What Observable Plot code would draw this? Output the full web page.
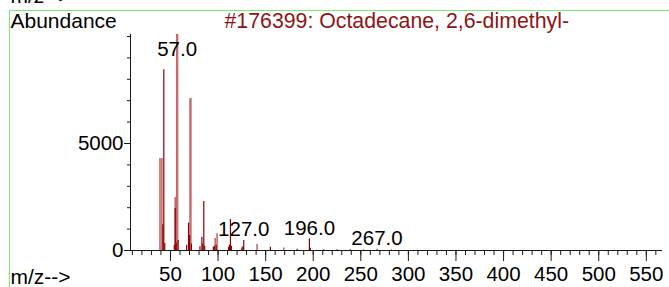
<!DOCTYPE html>
<html><head><meta charset="utf-8">
<script src="https://cdn.jsdelivr.net/npm/d3@7"></script>
<script src="https://cdn.jsdelivr.net/npm/@observablehq/plot@0.6"></script>
<style>
html,body{margin:0;padding:0;background:#fff;}
#wrap{position:relative;width:669px;height:287px;overflow:hidden;}
#wrap svg{position:absolute;left:0;top:0;}
#frame{position:absolute;left:8.5px;top:9.5px;right:-5px;bottom:-5px;border-left:1.5px solid #78ec78;border-top:1.5px solid #78ec78;pointer-events:none;}
</style></head><body>
<div id="wrap"><div id="frame"></div></div>
<script>
// Light (pink) spectrum lines
const lightMz    = [39,   41,   55,   57,    71,   97,  99,  141, 169, 267];
const lightAbund = [4300, 4300, 2480, 10100, 7100, 560, 780, 280, 120, 60];
// Dark red spectrum lines
const darkMz    = [42,   43,   44,  54,  55,   56,  58,  67,  69,   70,  72,  81,  83,  84,  85,   86,  95,  96,  98,  111, 112, 113,  114, 125, 126, 127, 155, 183, 196, 197, 211, 225, 239, 253, 282];
const darkAbund = [1200, 8450, 330, 230, 1960, 350, 470, 250, 1280, 700, 300, 180, 620, 300, 2290, 200, 150, 200, 250, 150, 250, 1450, 200, 120, 180, 470, 150, 60,  550, 100, 30,  30,  40,  25,  25];
// Annotated peaks
const labelMz = [57, 127, 196, 267];
// Axis ticks
const yTicks = [0, 5000];
const yMinorTicks = [0, 1000, 2000, 3000, 4000, 5000, 6000, 7000, 8000, 9000, 10000];
const xTicks = [50, 100, 150, 200, 250, 300, 350, 400, 450, 500, 550];
const xMinorTicks = d3.range(10, 561, 10);
const titleText = "#176399: Octadecane, 2,6-dimethyl-";
const yLabel = "Abundance";
const xLabel = "m/z-->";

const light = lightMz.map((m, i) => ({mz: m, abund: lightAbund[i]}));
const dark = darkMz.map((m, i) => ({mz: m, abund: darkAbund[i]}));
const all = light.concat(dark);
const labels = labelMz.map(m => ({mz: m, abund: d3.max(all.filter(d => d.mz === m), d => d.abund)}));

const font = "Liberation Sans, Arial, Helvetica, sans-serif";
const axisColor = "#1a1a1a";

const chart = Plot.plot({
  width: 669,
  height: 287,
  marginLeft: 130,
  marginRight: 7,
  marginTop: 36,
  marginBottom: 37,
  style: {fontFamily: font, fontSize: "20.5px", color: "#000", background: "transparent", overflow: "visible"},
  x: {domain: [8, 567]},
  y: {domain: [0, 10000]},
  marks: [
    Plot.ruleX(light, {x: "mz", y1: 0, y2: "abund", stroke: "#c46a6a", strokeWidth: d => d.abund > 5000 ? 2.4 : 1.6}),
    Plot.ruleX(dark, {x: "mz", y1: 0, y2: "abund", stroke: "#8b0000", strokeWidth: 1.2}),
    Plot.ruleX([8], {y1: 0, y2: 10100, stroke: axisColor, strokeWidth: 1}),
    Plot.ruleY([0], {stroke: axisColor, strokeWidth: 1}),
    Plot.axisY({ticks: yMinorTicks, tickSize: 3, tickFormat: () => "", stroke: axisColor, label: null}),
    Plot.axisY({ticks: yTicks, tickSize: 6, tickPadding: 1, tickFormat: d3.format("d"), fontSize: 20.5, stroke: axisColor, fill: "#000", label: null}),
    Plot.axisX({ticks: xMinorTicks, tickSize: 5, tickFormat: () => "", stroke: axisColor, label: null}),
    Plot.axisX({ticks: xTicks, tickSize: 11, tickPadding: 5, tickFormat: d3.format("d"), fontSize: 20.5, stroke: axisColor, fill: "#000", label: null}),
    Plot.text(labels, {x: "mz", y: d => Math.min(d.abund, 8900), text: d => d.mz.toFixed(1), dy: -4, lineAnchor: "bottom", fontSize: 20.5, fill: "#000"}),
    Plot.text([yLabel], {frameAnchor: "top-left", dx: -120, dy: -9, text: d => d, textAnchor: "start", lineAnchor: "bottom", fontSize: 21, fill: "#000"}),
    Plot.text([titleText], {frameAnchor: "top-left", dx: 94, dy: -9, text: d => d, textAnchor: "start", lineAnchor: "bottom", fontSize: 21.3, fill: "#8e1515"}),
    Plot.text([xLabel], {frameAnchor: "bottom-left", dx: -120, dy: 33, text: d => d, textAnchor: "start", lineAnchor: "bottom", fontSize: 21, fill: "#000"}),
    Plot.text([xLabel], {frameAnchor: "top-left", dx: -120, dy: -34, text: d => d, textAnchor: "start", lineAnchor: "bottom", fontSize: 21, fill: "#000"})
  ]
});
document.getElementById("wrap").prepend(chart);
</script>
</body></html>
